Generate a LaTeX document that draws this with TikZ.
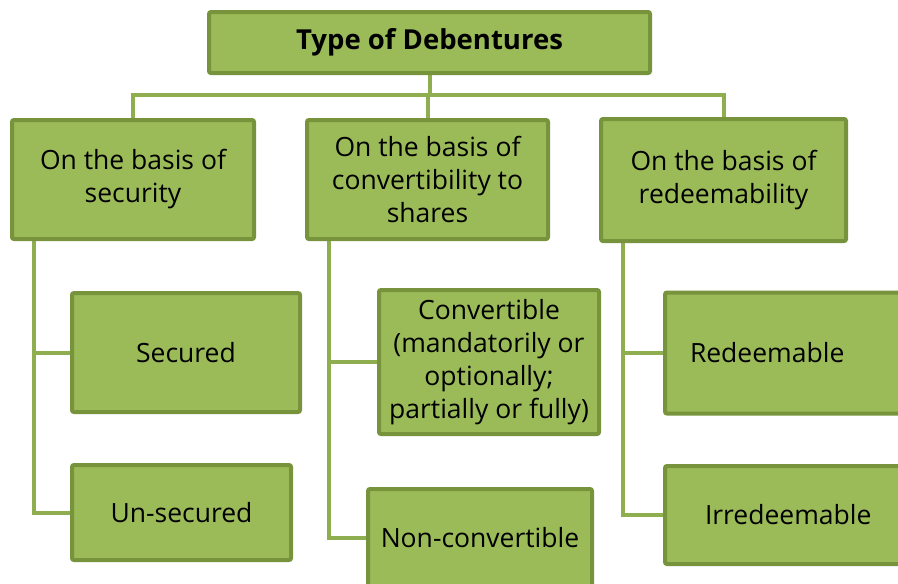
\documentclass[tikz,border=0pt]{standalone}
\usepackage{fontspec}
\setmainfont{Open Sans}
\usepackage{xcolor}
\usepackage{tikz}
\usetikzlibrary{positioning,calc,backgrounds}

\definecolor{boxfill}{HTML}{9BBB59}
\definecolor{boxedge}{HTML}{77933C}
\definecolor{linkgreen}{HTML}{8FAE50}

\tikzset{
    box/.style={draw=boxedge, fill=boxfill, line width=4pt, rounded corners=2pt,
        align=center, inner sep=0pt, font=\fontsize{26.5}{33}\selectfont},
    link/.style={draw=linkgreen, line width=4pt}
}

\begin{document}
\begin{tikzpicture}[x=1pt,y=-1pt]
    \clip (0,0) rectangle (898,584);

    % Root
    \node[box, minimum width=441pt, minimum height=61pt, font=\fontsize{27.5}{33}\selectfont\bfseries] (root) at (429.5,42.5) {Type of Debentures};

    % Bases
    \node[box, minimum width=242pt, minimum height=119pt] (sec) at (133,179.5) {On the basis of\\security};
    \node[box, minimum width=241pt, minimum height=119pt] (conv) at (427.5,179.5) {On the basis of\\convertibility to\\shares};
    \node[box, minimum width=245pt, minimum height=122pt] (red) at (723.5,180) {On the basis of\\redeemability};

    % Kinds
    \node[box, minimum width=228pt, minimum height=119pt] (secd) at (186,352.5) {Secured};
    \node[box, minimum width=219pt, minimum height=95pt] (unsec) at (181.5,512.5) {Un-secured};
    \node[box, minimum width=220pt, minimum height=144pt] (cvt) at (489,362) {Convertible\\(mandatorily or\\optionally;\\partially or fully)};
    \node[box, minimum width=224pt, minimum height=98pt] (ncvt) at (480,538) {Non-convertible};
    \node[box, anchor=west, align=left, text width=220pt, inner xsep=25pt, minimum height=121pt] (redm) at (663,353) {Redeemable};
    \node[box, anchor=west, align=left, text width=220pt, inner xsep=40pt, minimum height=98pt] (irr) at (663,515) {Irredeemable};

    \coordinate (hub) at (429.5,95);

    \begin{scope}[on background layer]
        % Root to bases
        \draw[link] (root) -- (hub);
        \draw[link] (sec.north) |- (hub) -| (red.north);
        \draw[link] (conv.north) -- (conv.north |- hub);

        % Bases to kinds
        \draw[link] ([xshift=24pt]sec.south west) |- (unsec.west);
        \draw[link] ([xshift=24pt]sec.south west |- secd.west) -- (secd.west);
        \draw[link] ([xshift=24pt]conv.south west) |- (ncvt.west);
        \draw[link] ([xshift=24pt]conv.south west |- cvt.west) -- (cvt.west);
        \draw[link] ([xshift=24pt]red.south west) |- (irr.west);
        \draw[link] ([xshift=24pt]red.south west |- redm.west) -- (redm.west);
    \end{scope}
\end{tikzpicture}
\end{document}
